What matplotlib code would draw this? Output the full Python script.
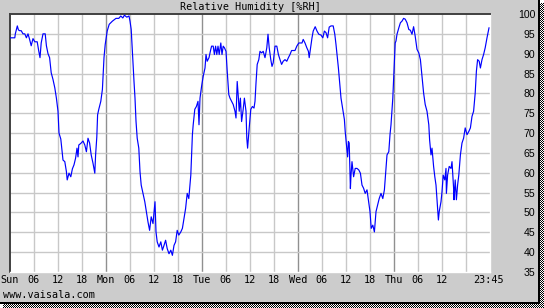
import numpy as np
import matplotlib
matplotlib.use("Agg")
import matplotlib.pyplot as plt

# ---- data: hours since Sunday 00:00 and relative humidity [%RH] ----
hours = [
    0, 1.2, 1.33, 1.83, 2.1, 2.4, 2.8, 3.25, 3.7, 4.1, 4.5, 4.9, 5.3, 5.75, 6.2, 6.8, 7.2, 7.5, 7.8,
    8.25, 8.8, 9.1, 9.5, 9.9, 10.3, 10.75, 11.2, 11.6, 12, 12.25, 12.7, 13.25, 13.7, 14.1, 14.3, 14.75,
    15.2, 15.6, 16, 16.4, 16.75, 17.0, 17.2, 17.7, 18.25, 18.7, 19.1, 19.5, 19.9, 20.3, 20.75, 21.2,
    21.4, 21.7, 21.9, 22.2, 22.7, 23.1, 23.5, 23.8, 24.3,
    24.8, 25.6, 26.5, 27.2, 27.7, 28.2, 28.6, 29.2, 29.75, 30, 30.3, 30.7, 31, 31.25, 31.5, 31.8, 32.2,
    32.5, 32.8, 33.25, 33.7, 34.1, 34.5, 34.9, 35.3, 35.75, 36.25, 36.5, 36.8, 37.25, 37.7, 38.1, 38.5,
    38.9, 39.3, 39.75, 40.2, 40.6, 41, 41.4, 41.8, 42.2, 42.7, 43.1, 43.5, 43.9, 44.3, 44.7, 45.2, 45.4,
    45.6, 45.8, 46.2, 46.6, 47, 47.25, 47.5, 47.9, 48.3,
    48.75, 49, 49.3, 49.75, 50.2, 50.4, 50.8, 51.1, 51.4, 51.7, 52, 52.3, 52.7, 53, 53.3, 53.6, 54, 54.3,
    54.7, 55, 55.4, 55.8, 56.25, 56.5, 56.8, 57.1, 57.3, 57.6, 57.9, 58.3, 58.6, 59, 59.2, 59.4, 59.8,
    60.2, 60.6, 61, 61.25, 61.5, 61.8, 62.2, 62.5, 62.9, 63.3, 63.75, 64.2, 64.5, 64.8, 65.2, 65.5, 65.8,
    66.25, 66.7, 67.1, 67.5, 67.9, 68.3, 68.75, 69.2, 69.6, 70, 70.4, 71.25, 71.7, 72.2,
    72.5, 73, 73.3, 73.75, 74.2, 74.6, 74.8, 75.1, 75.5, 75.8, 76.3, 76.75, 77.2, 77.75, 78.2, 78.6, 79,
    79.4, 79.8, 80.25, 80.8, 81.2, 81.5, 81.75, 82.1, 82.4, 82.75, 83.2, 83.6, 83.8, 84.2, 84.4, 84.6,
    84.8, 85, 85.1, 85.25, 85.5, 85.9, 86.3, 86.75, 87.2, 87.6, 88, 88.4, 88.8, 89.25, 89.7, 90, 90.3,
    90.7, 91.1, 91.5, 91.9, 92.3, 92.75, 93.2, 93.6, 94, 94.25, 94.7, 95, 95.25, 95.7, 96, 96.3,
    96.5, 96.75, 97.2, 97.6, 98, 98.4, 98.8, 99.25, 99.7, 100.1, 100.5, 100.9, 101.3, 101.75, 102.2,
    102.6, 103, 103.4, 103.8, 104.25, 104.7, 104.9, 105.25, 105.5, 105.9, 106.2, 106.5, 106.8, 107.1,
    107.3, 107.75, 108, 108.3, 108.7, 109, 109.1, 109.4, 109.8, 110.25, 110.5, 110.9, 111, 111.3, 111.6,
    111.9, 112.2, 112.6, 113, 113.4, 113.8, 114.25, 114.7, 115.1, 115.5, 115.9, 116.3, 116.6, 116.9,
    117.3, 117.6, 118, 118.4, 118.8, 119.25, 119.75,
]
humidity = [
    94, 94, 95, 97, 96, 95.8, 95.8, 95, 95, 94, 95, 93.6, 92, 93.8, 93, 93, 90.6, 89, 92.7,
    95, 95, 92, 90, 89, 85.2, 83.5, 81.4, 78.8, 75.5, 70, 68.5, 63.2, 62.8, 60.3, 58.2, 59.9,
    59, 61, 62, 63.7, 66.2, 64, 67, 67.4, 68, 67, 65.3, 68.7, 67.5, 64.5, 62.4, 59.9,
    64.5, 69, 74.6, 76, 78, 81, 89, 92.3, 95.7,
    97.4, 98.2, 98.9, 98.9, 99.5, 99.0, 99.7, 99.2, 99.5, 98.2, 96.1, 88.5, 83, 78.8, 73, 68.7, 66.2,
    60.3, 56.9, 54.8, 52.7, 50.2, 47.6, 45.5, 48.9, 47.2, 52.7, 45.1, 42.6, 41.3, 42.6, 40.5, 41.7,
    43, 40.9, 39.6, 40.5, 39.2, 41.7, 42.6, 45.5, 44.3, 45.1, 46, 48.5, 51, 54.8, 53.5, 59.4, 64.5,
    69.6, 72.1, 76, 76.7, 78, 72.1, 78.8, 81.8, 84.3,
    86.4, 89.8, 88.1, 89, 91.1, 91.9, 91.9, 89.8, 91.9, 89.8, 91.9, 89.8, 92.7, 89.8, 91.9, 91.5, 90.6, 85.6,
    79.7, 78.8, 78, 77.2, 75.5, 73.8, 83, 78.8, 75.5, 78.8, 72.9, 76, 78.8, 75.5, 68.7, 66.2, 71.3,
    76, 76.7, 76.3, 78, 82.6, 87.3, 88.5, 90.6, 90.2, 90.6, 89, 91.5, 94.9, 91.5, 88.5, 86.8, 87.7,
    91.9, 91.9, 89.8, 88.5, 87.3, 88.1, 88.5, 88.1, 89, 89.8, 90.8, 90.8, 91.9, 92.7,
    92.7, 92.7, 93.6, 92.7, 91.5, 90.6, 89, 91.1, 94, 95.7, 96.8, 95.7, 94.9, 94.7, 94, 95.7, 95.3,
    94, 96.7, 97, 97, 94.9, 92.3, 89.8, 86.4, 83, 78.8, 75.9, 73.4, 70.4, 66.2, 64, 67.9,
    67.5, 60.3, 56, 59.4, 62.8, 59, 61.1, 61.1, 60.7, 59.9, 56.9, 56.1, 54.8, 55.7, 52.3, 50.2, 46,
    46.8, 45.1, 50.2, 51.9, 53.5, 54.8, 53.5, 55.7, 61.1, 64.5, 65.3, 69.6, 72.1, 78.8, 86, 92.7,
    93.2, 94.9, 96.5, 97.8, 98.2, 98.9, 98.7, 97.8, 96.1, 95.9, 94.9, 96.8, 94.4, 91.1, 90.2,
    88.5, 84.3, 80.1, 77.2, 75.5, 72.1, 68.3, 64.5, 66.2, 61.6, 59, 56.9, 52.3, 48.1,
    50.2, 52.7, 55.2, 59.4, 58.2, 61.1, 54.8, 59.4, 61.6, 61.1, 62.8, 56.1, 53.2, 58.2, 53.2,
    56.9, 59.4, 64.5, 67.5, 68.7, 71.3, 69.6, 70.4, 71.3, 74.2, 75.5, 80.1, 85.6, 88.5,
    88.1, 86.4, 88.5, 89.8, 91.5, 94, 96.5,
]
tick_hours = [0, 6, 12, 18, 24, 30, 36, 42, 48, 54, 60, 66, 72, 78, 84, 90, 96, 102, 108, 114, 119.75]
tick_labels = ['Sun', '06', '12', '18', 'Mon', '06', '12', '18', 'Tue', '06', '12', '18',
               'Wed', '06', '12', '18', 'Thu', '06', '12', '', '23:45']
day_hours = [24, 48, 72, 96]
y_ticks = [35, 40, 45, 50, 55, 60, 65, 70, 75, 80, 85, 90, 95, 100]
title = 'Relative Humidity [%RH]'
footer = 'www.vaisala.com'

W, H = 544, 308
fig = plt.figure(figsize=(W / 100, H / 100), dpi=100)
fig.patch.set_facecolor('white')

# background panel with black edge and checkered shadow (pixel image)
bg = np.ones((H, W, 3))
bg[:, :] = 0xcc / 255
yy, xx = np.mgrid[0:H, 0:W]
checker = ((xx + yy) % 2 == 0)
shadow = ((xx >= 540) & (yy >= 3)) | ((yy >= 304) & (xx >= 3))
bg[shadow] = np.where(checker[shadow][:, None], 0.0, 1.0)
bg[(xx >= 540) & (yy < 3)] = 1.0
bg[(yy >= 304) & (xx < 3)] = 1.0
bg[(xx >= 538) & (xx < 540) & (yy < 304)] = 0.0
bg[(yy >= 302) & (yy < 304) & (xx < 540)] = 0.0
fig.figimage(bg, 0, 0, zorder=-10)

L, R, T, B = 10, 490, 14, 272
ax = fig.add_axes([L / W, 1 - B / H, (R - L) / W, (B - T) / H])
ax.set_zorder(5)
ax.set_facecolor('white')
ax.set_xlim(0, 120)
ax.set_ylim(35, 100)

mono = ['DejaVu Sans Mono']
for h in tick_hours[1:-1]:
    col = '#909090' if h in day_hours else '#c8c8c8'
    ax.axvline(h, color=col, lw=1.0, zorder=1)
for v in y_ticks[1:-1]:
    ax.axhline(v, color='#c8c8c8', lw=1.0, zorder=1)

ax.plot(hours, humidity, color='#0000ff', lw=0.85, zorder=3)

ax.set_xticks(tick_hours)
ax.set_xticklabels(tick_labels, family=mono, fontsize=7.3)
ax.tick_params(axis='x', length=0, pad=2.5)

ax.yaxis.tick_right()
ax.set_yticks(y_ticks)
ax.set_yticklabels([str(v) for v in y_ticks], family=['Liberation Sans'], fontsize=7.6)
ax.tick_params(axis='y', length=0, pad=32.5)
for lab in ax.get_yticklabels():
    lab.set_horizontalalignment('right')

for side in ['top', 'left']:
    ax.spines[side].set_color('#404040')
    ax.spines[side].set_linewidth(1.4)
for side in ['right', 'bottom']:
    ax.spines[side].set_color('white')
    ax.spines[side].set_linewidth(1.0)

fig.text((L + R) / 2 / W, 1 - 7.5 / H, title, family=mono, fontsize=7.3,
         ha='center', va='center', zorder=6)
fig.text(3 / W, 1 - 294.5 / H, footer, family=mono, fontsize=7.3, ha='left', va='center', zorder=6)

fig.savefig('out.png', dpi=100)
